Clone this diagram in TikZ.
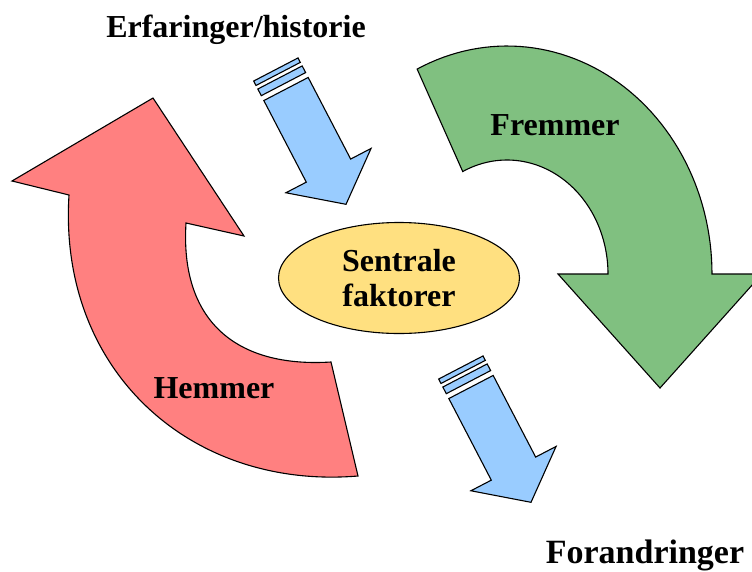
\documentclass[tikz,border=0pt]{standalone}
\usepackage{fontspec}
\setmainfont{Liberation Serif}
\usepackage{tikz}
\usetikzlibrary{shapes.geometric}
\definecolor{hemmerred}{RGB}{255,128,128}
\definecolor{fremmergreen}{RGB}{128,192,128}
\definecolor{stripeblue}{RGB}{153,204,255}
\definecolor{coreyellow}{RGB}{255,224,128}
\begin{document}
\begin{tikzpicture}[x=1pt, y=-1pt,
  bigtext/.style={font=\bfseries\fontsize{32}{35}\selectfont},
  curvedpil/.style={draw=black, line width=1.1pt, line join=miter},
  bluepil/.style={draw=black, line width=1.1pt, fill=stripeblue}]
\useasboundingbox (0,0) rectangle (752,571);
\clip (0,0) rectangle (752,571);
% Hemmer, red curved arrow pointing up
\draw[curvedpil, fill=hemmerred] (186,223) -- (244,236) -- (153,98) -- (12,181) -- (69,195)
  .. controls (58,370) and (190,490) .. (358,476) -- (331,362)
  .. controls (235,368) and (180,320) .. (186,223) -- cycle;
% Fremmer, green curved arrow pointing down
\draw[curvedpil, fill=fremmergreen]
  plot[domain=116:0, samples=60] ({507+205*cos(\x)},{274-228*sin(\x)})
  -- (762,274) -- (660,388) -- (558,274) -- (608,274)
  -- plot[domain=0:116, samples=60] ({507+101*cos(\x)},{274-114*sin(\x)})
  -- cycle;
% striped arrow from Erfaringer/historie
\begin{scope}[shift={(286,89)}, rotate=-62.5]
\draw[bluepil] (-22,-25) rectangle (-17,25);
\draw[bluepil] (-13,-25) rectangle (-5.5,25);
\draw[bluepil] (0,-25) -- (92,-25) -- (92,-48) -- (130,0) -- (92,48) -- (92,25) -- (0,25) -- cycle;
\end{scope}
% striped arrow towards Forandringer
\begin{scope}[shift={(471,387)}, rotate=-62.5]
\draw[bluepil] (-22,-25) rectangle (-17,25);
\draw[bluepil] (-13,-25) rectangle (-5.5,25);
\draw[bluepil] (0,-25) -- (92,-25) -- (92,-48) -- (130,0) -- (92,48) -- (92,25) -- (0,25) -- cycle;
\end{scope}
% central ellipse
\node[ellipse, draw=black, line width=1.1pt, fill=coreyellow, minimum width=241pt, minimum height=111pt, inner sep=0pt, align=center, bigtext] (core) at (399,278) {Sentrale\\faktorer};
% labels
\node[bigtext, anchor=base] (erfaring) at (236,37) {Erfaringer/historie};
\node[bigtext, anchor=base, font=\bfseries\fontsize{34}{37}\selectfont] (forandring) at (645,563) {Forandringer};
\node[bigtext, anchor=base] (fremmer) at (555,135) {Fremmer};
\node[bigtext, anchor=base] (hemmer) at (214,398) {Hemmer};
\end{tikzpicture}
\end{document}
